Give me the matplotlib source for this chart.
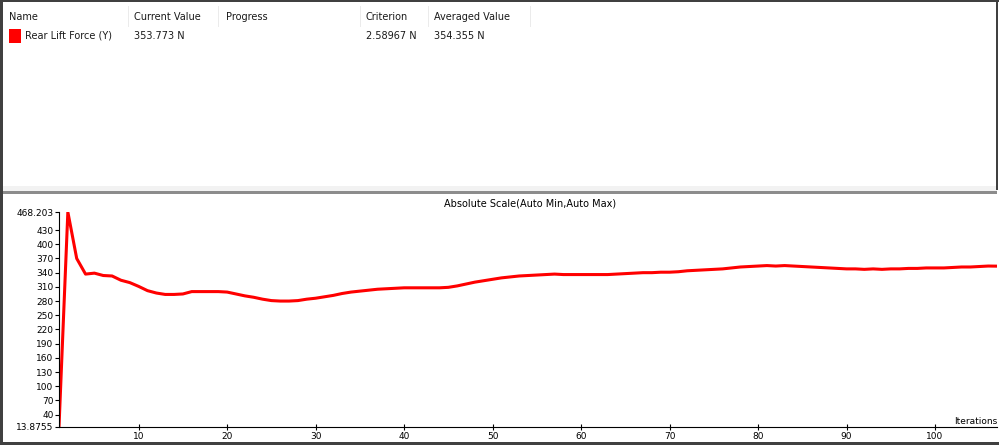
import matplotlib.pyplot as plt
from matplotlib.patches import Rectangle

# monitor table
columns = ["Name", "Current Value", "Progress", "Criterion", "Averaged Value"]
row = ["Rear Lift Force (Y)", "353.773 N", "", "2.58967 N", "354.355 N"]

# residual history of the rear lift force
iterations = list(range(1, 108))
lift_force = [
    13.8755, 468.203, 370, 337, 339, 334, 333, 324, 319, 311,
    302, 297, 294, 294, 295, 300, 300, 300, 300, 299,
    295, 291, 288, 284, 281, 280, 280, 281, 284, 286,
    289, 292, 296, 299, 301, 303, 305, 306, 307, 308,
    308, 308, 308, 308, 309, 312, 316, 320, 323, 326,
    329, 331, 333, 334, 335, 336, 337, 336, 336, 336,
    336, 336, 336, 337, 338, 339, 340, 340, 341, 341,
    342, 344, 345, 346, 347, 348, 350, 352, 353, 354,
    355, 354, 355, 354, 353, 352, 351, 350, 349, 348,
    348, 347, 348, 347, 348, 348, 349, 349, 350, 350,
    350, 351, 352, 352, 353, 354, 353.773,
]
y_ticks = [13.8755, 40, 70, 100, 130, 160, 190, 220, 250, 280, 310, 340, 370, 400, 430, 468.203]
y_labels = ["13.8755", "40", "70", "100", "130", "160", "190", "220", "250", "280",
            "310", "340", "370", "400", "430", "468.203"]
x_ticks = [10, 20, 30, 40, 50, 60, 70, 80, 90, 100]

W, H = 999, 445
fig = plt.figure(figsize=(W / 100, H / 100), dpi=100)
fig.patch.set_facecolor("white")


def px(x, y):
    return x / W, 1 - y / H


def box(x, y, w, h, color):
    # x, y = top-left corner in pixels
    fig.patches.append(Rectangle(px(x, y + h), w / W, h / H, color=color,
                                 transform=fig.transFigure, linewidth=0))


# window frame and panel divider
box(0, 186, 997, 6, "#f2f2f2")
box(0, 191, 997, 3, "#8c8c8c")
box(0, 0, 3, 445, "#404040")
box(0, 0, 999, 2, "#404040")
box(0, 442, 999, 3, "#404040")
box(996, 0, 2, 190, "#404040")

# table header and row
col_x = [9, 134, 226, 366, 434]
sep_x = [128, 218, 360, 428, 530]
for sx in sep_x:
    box(sx, 6, 1, 21, "#ebebeb")
for cx, name, val in zip(col_x, columns, row):
    fig.text(*px(cx, 17), name, fontsize=7, va="center", ha="left", color="#1a1a1a")
    if val:
        tx = cx + 16 if name == "Name" else cx
        fig.text(*px(tx, 36), val, fontsize=7, va="center", ha="left", color="#1a1a1a")
box(9, 29, 12, 14, "#ff0000")

# chart
ax = fig.add_axes([59 / W, 1 - 427 / H, (997 - 59) / W, (427 - 212) / H])
ax.plot(iterations, lift_force, color="#ff0000", linewidth=2.2)
ax.set_xlim(1, 107)
ax.set_ylim(13.8755, 468.203)
ax.set_yticks(y_ticks)
ax.set_yticklabels(y_labels)
ax.set_xticks(x_ticks)
ax.spines["top"].set_visible(False)
ax.spines["right"].set_visible(False)
ax.tick_params(axis="y", length=3, width=0.8, labelsize=6.5, pad=1)
ax.tick_params(axis="x", direction="inout", length=5, width=0.8, labelsize=6.5, pad=1)
ax.patch.set_alpha(0)

fig.text(*px(530, 203), "Absolute Scale(Auto Min,Auto Max)", fontsize=7, ha="center", va="center")
fig.text(*px(997, 421), "Iterations", fontsize=6.5, ha="right", va="center")

fig.savefig("out.png", dpi=100)
